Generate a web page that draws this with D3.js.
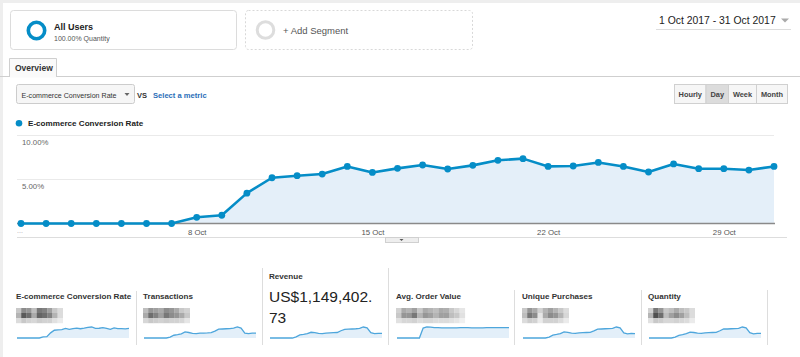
<!DOCTYPE html>
<html><head><meta charset="utf-8">
<script src="https://cdn.jsdelivr.net/npm/d3@7"></script>
<style>
html,body{margin:0;padding:0;background:#fff;}
svg{display:block;font-family:"Liberation Sans",Arial,sans-serif;}
</style></head>
<body><svg id="c" width="800" height="357"></svg>
<script>
// ---------- data ----------
const days = d3.range(1, 32);
const convRate = [0,0,0,0,0,0,0,0.7,0.93,3.43,5.17,5.4,5.59,6.45,5.77,6.23,6.61,6.16,6.57,7.14,7.33,6.45,6.5,6.9,6.45,5.82,6.73,6.19,6.19,6.04,6.45];
const yTicks = [5, 10];
const yTickLabels = ["5.00%", "10.00%"];
const xTickDays = [8, 15, 22, 29];
const xTickLabels = ["8 Oct", "15 Oct", "22 Oct", "29 Oct"];
const seriesName = "E-commerce Conversion Rate";
const dateRange = "1 Oct 2017 - 31 Oct 2017";
const intervals = ["Hourly", "Day", "Week", "Month"];
const selectedInterval = "Day";
const panelNames = ["E-commerce Conversion Rate", "Transactions", "Revenue", "Avg. Order Value", "Unique Purchases", "Quantity"];
const revenueText = ["US$1,149,402.", "73"];
const sparkTransactions = [0,0,0,0,0,0,0,8,25,30,38,55,50,42,40,44,45,46,48,62,80,82,84,86,90,100,90,45,40,44,44];
const sparkRevenue = [0,0,0,0,0,0,0,10,28,32,40,52,48,42,40,44,46,48,50,66,78,80,82,84,88,100,92,48,40,42,42];
const sparkAOV = [0,0,0,0,0,0,0,88,98,96,92,92,91,91,91,91,91,92,92,92,91,91,91,91,92,92,92,92,92,92,92];
const sparkUnique = [0,0,0,0,0,0,0,8,26,32,40,56,52,44,42,46,48,50,52,64,80,82,84,85,88,100,92,46,38,42,40];
const sparkQuantity = [0,0,0,0,0,0,0,8,24,30,40,54,50,44,42,46,48,50,52,66,82,82,84,85,88,100,92,48,38,42,42];
const sparkSeries = [convRate, sparkTransactions, sparkRevenue, sparkAOV, sparkUnique, sparkQuantity];
// blurred (pixelated) value shades, rows of grey levels
const mosaics = [
  [[200,140,150,190,120,130,160,200,220],[180,90,110,170,100,110,130,180,220],[220,200,210,215,205,210,210,225,235]],
  [[190,150,160,170,140,150,170,200,210],[170,110,130,160,120,140,150,170,200],[215,200,205,210,205,210,210,215,230]],
  null,
  [[210,170,180,160,200,170,180,190,170,175,200,215,230],[200,150,150,120,180,150,160,180,160,160,190,200,225],[225,215,215,210,220,215,215,220,220,220,225,230,240]],
  [[200,150,170,210,180,160,180,200,220],[190,120,140,230,170,140,150,180,215],[220,205,210,235,210,210,210,220,235]],
  [[210,120,150,200,190,170,190,200,220],[180,80,110,190,160,140,160,190,220],[225,200,205,215,215,210,215,220,235]]
];

// ---------- setup ----------
const svg = d3.select("#c");
const blue = "#058dc7";

// page chrome
svg.append("rect").attr("x",0).attr("y",0).attr("width",800).attr("height",3).attr("fill","#eeeeee");
svg.append("rect").attr("x",0).attr("y",0).attr("width",3).attr("height",357).attr("fill","#eeeeee");

// segment boxes
svg.append("rect").attr("x",10.5).attr("y",10.5).attr("width",226).attr("height",39).attr("rx",3)
  .attr("fill","#fff").attr("stroke","#dcdcdc");
svg.append("circle").attr("cx",36.5).attr("cy",30.5).attr("r",8.2).attr("fill","none").attr("stroke",blue).attr("stroke-width",3.6);
svg.append("text").attr("x",54).attr("y",30).attr("font-size",9).attr("font-weight","bold").attr("fill","#222").text("All Users");
svg.append("text").attr("x",54).attr("y",41).attr("font-size",7).attr("fill","#555").text("100.00% Quantity");

svg.append("rect").attr("x",245.5).attr("y",10.5).attr("width",227).attr("height",39).attr("rx",3)
  .attr("fill","#fff").attr("stroke","#d8d8d8").attr("stroke-dasharray","2,2");
svg.append("circle").attr("cx",265.5).attr("cy",30).attr("r",8.3).attr("fill","none").attr("stroke","#dddddd").attr("stroke-width",3);
svg.append("text").attr("x",283).attr("y",33.5).attr("font-size",9.5).attr("fill","#555").text("+ Add Segment");

// date range
svg.append("text").attr("x",659).attr("y",24).attr("font-size",10.4).attr("fill","#222").text(dateRange);
svg.append("path").attr("d","M781,18.5 L789,18.5 L785,22.5 Z").attr("fill","#aaa");
svg.append("line").attr("x1",656).attr("x2",791).attr("y1",29.5).attr("y2",29.5).attr("stroke","#ddd");

// overview tab
svg.append("line").attr("x1",0).attr("x2",800).attr("y1",76.5).attr("y2",76.5).attr("stroke","#cfcfcf");
svg.append("path").attr("d","M9.5,77 L9.5,58.5 L56.5,58.5 L56.5,77").attr("fill","#fafafa").attr("stroke","#cfcfcf");
svg.append("rect").attr("x",10).attr("y",76).attr("width",46).attr("height",1.5).attr("fill","#fafafa");
svg.append("text").attr("x",15).attr("y",70.5).attr("font-size",8.5).attr("font-weight","bold").attr("fill","#333").text("Overview");

// metric dropdown
svg.append("rect").attr("x",16.5).attr("y",84.5).attr("width",118).attr("height",19).attr("rx",2)
  .attr("fill","#f6f6f6").attr("stroke","#cccccc");
svg.append("text").attr("x",21.5).attr("y",97.5).attr("font-size",7.1).attr("fill","#333").text(seriesName);
svg.append("path").attr("d","M124.5,93 L129.5,93 L127,96 Z").attr("fill","#666");
svg.append("text").attr("x",137).attr("y",97.5).attr("font-size",7.5).attr("font-weight","bold").attr("fill","#333").text("VS");
svg.append("text").attr("x",153).attr("y",97.5).attr("font-size",7.6).attr("font-weight","bold").attr("fill","#2a6eb8").text("Select a metric");

// interval buttons
const btnEdges = [674, 705.5, 728, 756, 787];
intervals.forEach((t,i)=>{
  svg.append("rect").attr("x",btnEdges[i]+0.5).attr("y",84.5).attr("width",btnEdges[i+1]-btnEdges[i]).attr("height",19)
    .attr("fill", t===selectedInterval ? "#dcdcdc" : "#f6f6f6").attr("stroke","#d0d0d0");
  svg.append("text").attr("x",(btnEdges[i]+btnEdges[i+1])/2+0.5).attr("y",96.5).attr("text-anchor","middle")
    .attr("font-size",7.4).attr("font-weight","bold").attr("fill","#444").text(t);
});

// legend
svg.append("circle").attr("cx",19).attr("cy",123.3).attr("r",3.3).attr("fill",blue);
svg.append("text").attr("x",28).attr("y",126.3).attr("font-size",8.1).attr("font-weight","bold").attr("fill","#222").text(seriesName);

// ---------- main chart ----------
const x = d3.scaleLinear().domain([1,31]).range([21,774]);
const y = d3.scaleLinear().domain([0,10]).range([223.5,135]);

const grid = svg.append("g");
yTicks.forEach((v,i)=>{
  grid.append("line").attr("x1",17).attr("x2",774).attr("y1",Math.round(y(v))+0.5).attr("y2",Math.round(y(v))+0.5)
    .attr("stroke","#eaeaea");
  grid.append("text").attr("x",22).attr("y",y(v)+9.5).attr("font-size",7.8).attr("fill","#666").text(yTickLabels[i]);
});

const area = d3.area().x((d,i)=>x(days[i])).y0(y(0)).y1(d=>y(d));
svg.append("path").datum(convRate).attr("d",area).attr("fill","#e4eff9");

// baseline axis
svg.append("line").attr("x1",17).attr("x2",775).attr("y1",y(0)).attr("y2",y(0)).attr("stroke","#8a8a8a").attr("stroke-width",1.5);

const xAxis = d3.axisBottom(x).tickValues(xTickDays).tickSize(0).tickFormat((d,i)=>xTickLabels[i]);
const gx = svg.append("g").attr("transform",`translate(0,${y(0)+3})`).call(xAxis);
gx.select(".domain").remove();
gx.selectAll("text").attr("font-size",7.8).attr("fill","#555").attr("font-family","Liberation Sans, Arial, sans-serif");
svg.append("text").attr("x",17).attr("y",233).attr("font-size",7).attr("fill","#aaa").text("...");

const line = d3.line().x((d,i)=>x(days[i])).y(d=>y(d));
svg.append("path").datum(convRate).attr("d",line).attr("fill","none").attr("stroke",blue).attr("stroke-width",2.6).attr("stroke-linejoin","round");
svg.append("g").selectAll("circle").data(convRate).join("circle")
  .attr("cx",(d,i)=>x(days[i])).attr("cy",d=>y(d)).attr("r",3.4).attr("fill",blue);

// lower rule and handle
svg.append("line").attr("x1",17).attr("x2",787).attr("y1",237.5).attr("y2",237.5).attr("stroke","#dddddd");
svg.append("rect").attr("x",385.5).attr("y",237.5).attr("width",33).attr("height",5).attr("fill","#eeeeee").attr("stroke","#d0d0d0");
svg.append("path").attr("d","M399.5,239 L403.5,239 L401.5,241 Z").attr("fill","#555");

// ---------- sparkline panels ----------
const panelLeft = [16, 143, 269, 396, 522, 648];
const dividers = [136, 262, 388, 514, 641, 767];
const dividerTop = [291, 268, 268, 290, 290, 290];
dividers.forEach((d,i)=>{
  svg.append("line").attr("x1",d+0.5).attr("x2",d+0.5).attr("y1",dividerTop[i]).attr("y2",345).attr("stroke","#dddddd");
});
panelNames.forEach((name,i)=>{
  const px = panelLeft[i];
  const isRev = i===2;
  svg.append("text").attr("x",px).attr("y",isRev?278.5:299).attr("font-size",8.1).attr("font-weight","bold")
    .attr("fill","#333").text(name);
  if (isRev) {
    svg.append("text").attr("x",px).attr("y",302).attr("font-size",15.5).attr("fill","#222").text(revenueText[0]);
    svg.append("text").attr("x",px).attr("y",322.5).attr("font-size",15.5).attr("fill","#222").text(revenueText[1]);
  } else {
    const m = mosaics[i];
    const cw = (i===3?5.3:5.2), ch = 5;
    m.forEach((row,r)=>row.forEach((g,c)=>{
      svg.append("rect").attr("x",px+c*cw).attr("y",308+r*ch).attr("width",cw+0.2).attr("height",ch+0.2)
        .attr("fill",d3.rgb(g,g,g));
    }));
  }
  const data = sparkSeries[i];
  const sx = d3.scaleLinear().domain([1,31]).range([px+1, px+113]);
  const sy = d3.scaleLinear().domain([0, d3.max(data)]).range([338, 327]);
  svg.append("path").datum(data).attr("d", d3.area().x((d,j)=>sx(days[j])).y0(338).y1(d=>sy(d)))
    .attr("fill","#e3eff9");
  svg.append("path").datum(data).attr("d", d3.line().x((d,j)=>sx(days[j])).y(d=>sy(d)))
    .attr("fill","none").attr("stroke","#4ea6dc").attr("stroke-width",1.3);
});
</script></body></html>
